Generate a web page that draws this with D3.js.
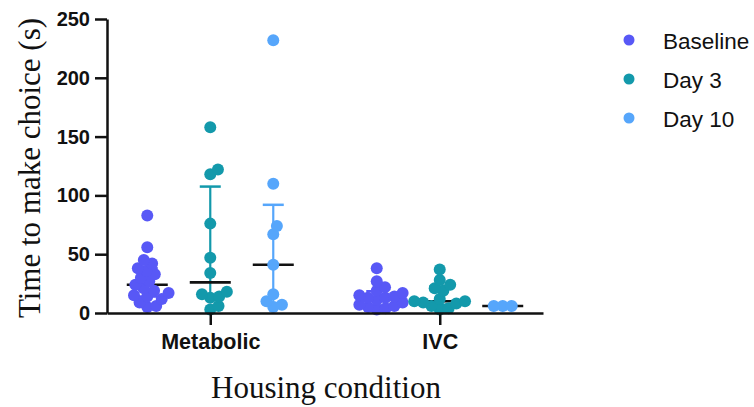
<!DOCTYPE html>
<html>
<head>
<meta charset="utf-8">
<script src="https://cdn.jsdelivr.net/npm/d3@7"></script>
<style>
  html, body { margin: 0; padding: 0; background: #fff; }
  svg { display: block; }
</style>
</head>
<body>
<svg id="chart" width="754" height="407"></svg>
<script>
// Housing conditions and time points
const categories = ["Metabolic", "IVC"];
const seriesNames = ["Baseline", "Day 3", "Day 10"];
const seriesColors = ["#5858F6", "#1399AB", "#56A6FB"];
const yTicks = [0, 50, 100, 150, 200, 250];

// Individual times to make a choice (s), per housing condition
const metabolicBaseline = [83, 56, 45, 42, 38, 36, 33, 30, 27, 24, 21, 19, 17, 15, 14, 12, 9, 6, 5];
const metabolicDay3 = [158, 122, 118, 76, 47, 34, 18, 16, 14, 13, 6, 3];
const metabolicDay10 = [232, 110, 74, 67, 41, 16, 10, 7, 5];
const ivcBaseline = [38, 27, 22, 19, 17, 15, 14, 13, 13, 11, 9, 7, 6, 5, 4, 3];
const ivcDay3 = [37, 28, 24, 21, 19, 12, 10, 10, 9, 8, 6, 4, 3];
const ivcDay10 = [6, 6, 6];

const groups = [
  { category: "Metabolic", series: "Baseline", values: metabolicBaseline },
  { category: "Metabolic", series: "Day 3", values: metabolicDay3 },
  { category: "Metabolic", series: "Day 10", values: metabolicDay10 },
  { category: "IVC", series: "Baseline", values: ivcBaseline },
  { category: "IVC", series: "Day 3", values: ivcDay3 },
  { category: "IVC", series: "Day 10", values: ivcDay10 }
];

const svg = d3.select("#chart");
const x = d3.scalePoint().domain(categories).range([107, 543]).padding(0.45);
const xs = d3.scalePoint().domain(seriesNames).range([-63, 63]);
const y = d3.scaleLinear().domain([0, 250]).range([313, 19]);
const color = d3.scaleOrdinal().domain(seriesNames).range(seriesColors);

// Percentiles computed the way Prism does: position p*(n+1)
function percentile(vals, p) {
  const s = vals.slice().sort((a, b) => a - b);
  const n = s.length;
  const pos = p * (n + 1);
  if (pos <= 1) return s[0];
  if (pos >= n) return s[n - 1];
  const lo = Math.floor(pos);
  return s[lo - 1] + (pos - lo) * (s[lo] - s[lo - 1]);
}

// Compact beeswarm: dots may overlap partly, each takes the nearest free offset
const R = 6;
const D = 9;
function swarm(vals) {
  const placed = [];
  vals.slice().sort((a, b) => a - b).forEach(v => {
    const py = y(v);
    const cands = [0];
    placed.forEach(p => {
      const dy = Math.abs(p.y - py);
      if (dy < D) {
        const dx = Math.sqrt(D * D - dy * dy);
        cands.push(p.dx + dx, p.dx - dx);
      }
    });
    cands.sort((a, b) => Math.abs(a) - Math.abs(b) || b - a);
    const dx = cands.find(c => placed.every(p => (p.dx - c) ** 2 + (p.y - py) ** 2 >= D * D - 0.01));
    placed.push({ v, dx, y: py });
  });
  return placed;
}

const plot = svg.append("g");

groups.forEach(g => {
  const cx = x(g.category) + xs(g.series);
  const col = color(g.series);
  const med = percentile(g.values, 0.5);
  const q1 = percentile(g.values, 0.25);
  const q3 = percentile(g.values, 0.75);
  const gg = plot.append("g");

  // interquartile range bar with caps
  gg.append("line")
    .attr("x1", cx).attr("x2", cx)
    .attr("y1", y(q1)).attr("y2", y(q3))
    .attr("stroke", col).attr("stroke-width", 2.2);
  [q1, q3].forEach(q => {
    gg.append("line")
      .attr("x1", cx - 10.5).attr("x2", cx + 10.5)
      .attr("y1", y(q)).attr("y2", y(q))
      .attr("stroke", col).attr("stroke-width", 2.5);
  });

  // median line
  gg.append("line")
    .attr("x1", cx - 20.5).attr("x2", cx + 20.5)
    .attr("y1", y(med)).attr("y2", y(med))
    .attr("stroke", "#111").attr("stroke-width", 2.6);

  // individual animals
  gg.selectAll("circle")
    .data(swarm(g.values))
    .join("circle")
    .attr("cx", d => cx + d.dx)
    .attr("cy", d => d.y)
    .attr("r", R)
    .attr("fill", col);
});

// Y axis
const yAxis = svg.append("g")
  .attr("transform", "translate(107,0)")
  .call(d3.axisLeft(y).tickValues(yTicks).tickSize(12).tickPadding(5).tickSizeOuter(0));
yAxis.select(".domain").attr("stroke", "#111").attr("stroke-width", 2.5);
yAxis.selectAll(".tick line").attr("stroke", "#111").attr("stroke-width", 2.5);
yAxis.selectAll(".tick text")
  .attr("fill", "#111")
  .style("font-family", "'Liberation Sans', Arial, sans-serif")
  .style("font-weight", "bold")
  .style("font-size", "20px");

// X axis
const xAxis = svg.append("g")
  .attr("transform", "translate(0,313)")
  .call(d3.axisBottom(x).tickSize(12).tickPadding(9).tickSizeOuter(0));
xAxis.select(".domain").attr("stroke", "#111").attr("stroke-width", 2.5);
xAxis.selectAll(".tick line").attr("stroke", "#111").attr("stroke-width", 2.5);
xAxis.selectAll(".tick text")
  .attr("fill", "#111")
  .style("font-family", "'Liberation Sans', Arial, sans-serif")
  .style("font-weight", "bold")
  .style("font-size", "21.5px");

// Axis titles
svg.append("text")
  .attr("transform", "translate(40,168) rotate(-90)")
  .attr("text-anchor", "middle")
  .style("font-family", "'Liberation Serif', 'Times New Roman', serif")
  .style("font-size", "31px")
  .attr("fill", "#111")
  .text("Time to make choice (s)");

svg.append("text")
  .attr("x", 326).attr("y", 398)
  .attr("text-anchor", "middle")
  .style("font-family", "'Liberation Serif', 'Times New Roman', serif")
  .style("font-size", "31px")
  .attr("fill", "#111")
  .text("Housing condition");

// Legend
const legend = svg.append("g").attr("transform", "translate(629,40)");
seriesNames.forEach((s, i) => {
  const row = legend.append("g").attr("transform", `translate(0,${i * 39})`);
  row.append("circle").attr("r", 5.5).attr("fill", color(s));
  row.append("text")
    .attr("x", 34).attr("y", 8.5)
    .style("font-family", "'Liberation Sans', Arial, sans-serif")
    .style("font-size", "22.5px")
    .attr("fill", "#111")
    .text(s);
});
</script>
</body>
</html>
